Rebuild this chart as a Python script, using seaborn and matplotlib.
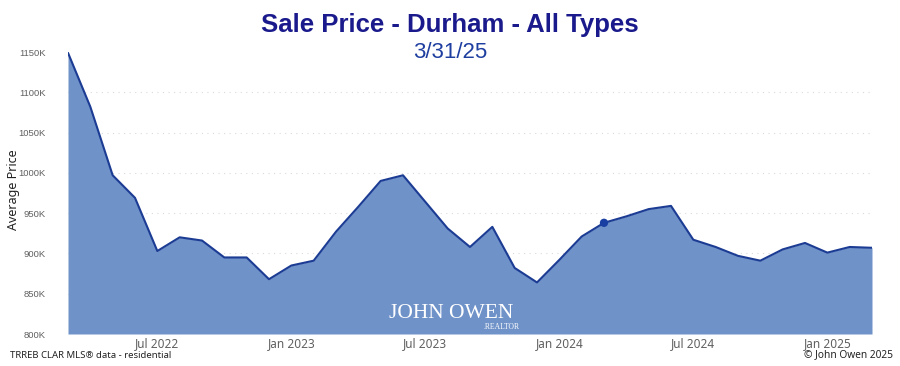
import numpy as np
import pandas as pd
import matplotlib
matplotlib.use("Agg")
import matplotlib.pyplot as plt
import seaborn as sns

# ---- data ----
months = pd.date_range("2022-03-01", periods=37, freq="MS").strftime("%b %Y").tolist()
prices_k = [1149, 1082, 997, 969, 903, 920, 916, 895, 895, 868, 885, 891,
            927, 958, 990, 997, 964, 931, 908, 933, 882, 864, 892, 921,
            938, 946, 955, 959, 917, 908, 897, 891, 905, 913, 901, 908, 907]
highlight_month = "Mar 2024"
tick_months = ["Jul 2022", "Jan 2023", "Jul 2023", "Jan 2024", "Jul 2024", "Jan 2025"]
y_ticks = [800, 850, 900, 950, 1000, 1050, 1100, 1150]

title = "Sale Price - Durham - All Types"
subtitle = "3/31/25"
y_label = "Average Price"
footer_left = "TRREB CLAR MLS\u00ae data - residential"
footer_right = "\u00a9 John Owen 2025"

df = pd.DataFrame({"month": months, "price": prices_k})
df["pos"] = np.arange(len(df))

sns.set_theme(style="white")
plt.rcParams["font.family"] = ["Liberation Sans", "DejaVu Sans"]

fig = plt.figure(figsize=(9, 3.66), dpi=100)
ax = fig.add_axes([68 / 900, 1 - 334 / 366, (872 - 68) / 900, (334 - 52) / 366])

fill_color = "#6f92c9"
line_color = "#1c3c94"

ax.set_axisbelow(True)
ax.yaxis.grid(True, color="#dadada", linestyle=(0, (1, 4)), linewidth=0.8)
ax.xaxis.grid(False)

ax.fill_between(df["pos"], df["price"], y_ticks[0], color=fill_color, linewidth=0, zorder=2)
sns.lineplot(data=df, x="pos", y="price", ax=ax, color=line_color, linewidth=1.5, zorder=3)
hl = df[df["month"] == highlight_month]
sns.scatterplot(data=hl, x="pos", y="price", ax=ax, color="#1a3fa3", s=36, edgecolor="none", zorder=4)

ax.set_xlim(df["pos"].min(), df["pos"].max())
ax.set_ylim(y_ticks[0], y_ticks[-1])
ax.set_yticks(y_ticks)
ax.set_yticklabels([f"{v}K" for v in y_ticks], fontsize=6.8, color="#606060")
tick_pos = [months.index(m) for m in tick_months]
ax.set_xticks(tick_pos)
ax.set_xticklabels(tick_months, fontsize=8.5, color="#606060", family=["Noto Sans", "DejaVu Sans"])
ax.tick_params(axis="both", length=0)
ax.tick_params(axis="y", pad=16)
ax.tick_params(axis="x", pad=2)
ax.set_xlabel("")
ax.set_ylabel("")
for s in ax.spines.values():
    s.set_visible(False)
gl = ax.get_ygridlines()
gl[-1].set_visible(False)

fig.text(14 / 900, 1 - 190 / 366, y_label, rotation=90, ha="center", va="center",
         fontsize=9, color="#222222", family=["Noto Sans", "DejaVu Sans"])

fig.text(450 / 900, 1 - 32 / 366, title, ha="center", va="baseline",
         fontsize=18.5, fontweight="bold", color="#1a1a8c")
fig.text(450 / 900, 1 - 58 / 366, subtitle, ha="center", va="baseline",
         fontsize=16, color="#1f3fa0")

fig.text(10 / 900, 1 - 355 / 366, footer_left, ha="left", va="center",
         fontsize=6.9, color="#222222", family=["Noto Sans", "DejaVu Sans"])
fig.text(893 / 900, 1 - 355 / 366, footer_right, ha="right", va="center",
         fontsize=7.3, color="#222222", family=["Noto Sans", "DejaVu Sans"])

# watermark
fig.text(451 / 900, 1 - 318 / 366, "JOHN OWEN", ha="center", va="baseline",
         fontsize=15.5, color="white", family=["Liberation Serif", "DejaVu Serif"])
fig.text(519 / 900, 1 - 323 / 366, ".REALTOR", ha="right", va="top",
         fontsize=5.5, color="white", family=["Liberation Serif", "DejaVu Serif"])

fig.savefig("out.png", dpi=100)
